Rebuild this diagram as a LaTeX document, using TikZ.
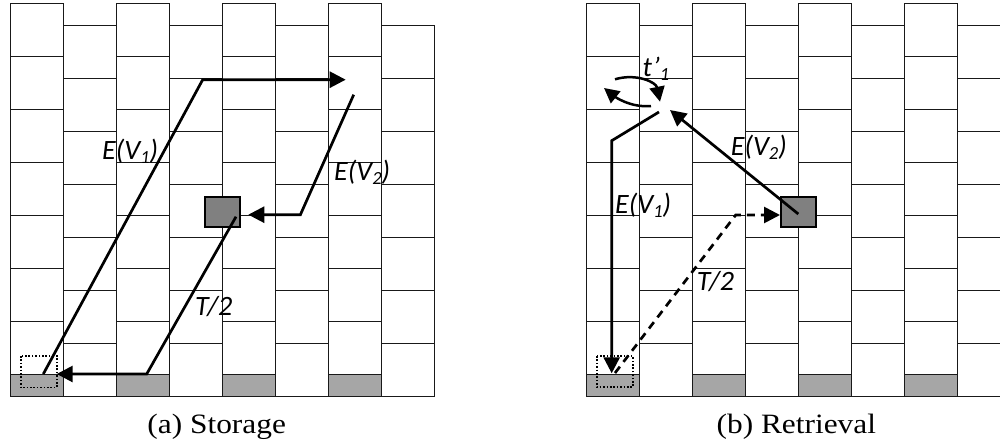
\documentclass[tikz,border=0pt]{standalone}
\usepackage{fontspec}
\usepackage{graphicx}
\setmainfont{Liberation Serif}
\newfontfamily\lblfont{Carlito}
\usetikzlibrary{arrows.meta}
% lowered index digit, as in E(V_1)
\newcommand\lowidx[1]{\raisebox{-4pt}{\fontsize{18.5}{18.5}\selectfont #1}}
\begin{document}
\begin{tikzpicture}[x=1pt,y=-1pt,
  cell/.style={draw=black!90,line width=1.4pt,fill=white},
  strip/.style={draw=black!90,line width=1.4pt,fill=black!35},
  slot/.style={draw=black,line width=2.2pt,fill=black!50},
  target/.style={draw=black,line width=1.6pt,dash pattern={on 1.6pt off 1.8pt}},
  route/.style={line width=2.7pt,-{Triangle[length=16pt,width=16pt]}},
  backroute/.style={route,dash pattern={on 8pt off 6pt}},
  turn/.style={line width=2.5pt,-{Triangle[length=15pt,width=15pt]}},
  lbl/.style={font=\lblfont\itshape\fontsize{28}{28}\selectfont,anchor=base west,inner sep=0pt},
  caption/.style={font=\fontsize{28}{28}\selectfont,anchor=base,inner sep=0pt}]
\useasboundingbox (0,0) rectangle (1000,444);
\clip (0,0) rectangle (1000,444);
\fill[white] (0,0) rectangle (1000,444);

% two racks of staggered columns
\foreach \ox in {10.3,586.3}{
  \foreach \i in {0,2,4,6}{
    \foreach \k in {0,...,6}{
      \draw[cell] ({\ox+53*\i},{3.3+53*\k}) rectangle +(53,53);
    }
    \draw[strip] ({\ox+53*\i},374.3) rectangle +(53,22);
  }
  \foreach \i in {1,3,5,7}{
    \foreach \k in {0,...,6}{
      \draw[cell] ({\ox+53*\i},{25.3+53*\k}) rectangle +(53,53);
    }
  }
}

% (a) storage
\draw[target] (20.7,356) rectangle (56.7,387.5);
\draw[slot] (205,197) rectangle (240,227);
\coordinate (a1) at (43.3,374);
\coordinate (a2) at (202.7,79.7);
\coordinate (a3) at (345.7,79.7);
\coordinate (b1) at (353.7,94.7);
\coordinate (b2) at (300.4,214.7);
\coordinate (b3) at (248.3,214.7);
\coordinate (c1) at (236,216.7);
\coordinate (c2) at (146.7,374);
\coordinate (c3) at (56.7,374);
\draw[route] (a1) -- (a2) -- (a3);
\draw[route] (b1) -- (b2) -- (b3);
\draw[route] (c1) -- (c2) -- (c3);
\node[lbl] (la1) at (102,159.3) {E(V\lowidx{1})};
\node[lbl] (la2) at (334,180) {E(V\lowidx{2})};
\node[lbl] (la3) at (195,315) {T/2};
\node[caption] (capa) at (216.7,433) {\scalebox{1.12}[1]{(a) Storage}};

% (b) retrieval
\draw[target] (596.7,356) rectangle (632.7,387);
\draw[slot] (781,197) rectangle (816,227);
\coordinate (d1) at (659,112);
\coordinate (d2) at (611.7,140.7);
\coordinate (d3) at (611.7,373.3);
\coordinate (e1) at (798.3,214);
\coordinate (e2) at (670,110);
\coordinate (f1) at (615,373);
\coordinate (f2) at (735.7,215);
\coordinate (f3) at (780,215);
\draw[route] (d1) -- (d2) -- (d3);
\draw[route] (e1) -- (e2);
\draw[backroute] (f1) -- (f2) -- (f3);
\coordinate (g1) at (615,79.3);
\coordinate (g2) at (660,101.7);
\coordinate (h1) at (651,106);
\coordinate (h2) at (604,88);
\draw[turn] (g1) .. controls (636,73) and (656,82) .. (g2);
\draw[turn] (h1) .. controls (630,108) and (614,96) .. (h2);
\node[lbl] (lb0) at (642.3,76) {t’\lowidx{1}};
\node[lbl] (lb1) at (615,213.3) {E(V\lowidx{1})};
\node[lbl] (lb2) at (730.7,155) {E(V\lowidx{2})};
\node[lbl] (lb3) at (696.7,290) {T/2};
\node[caption] (capb) at (796.3,433) {\scalebox{1.12}[1]{(b) Retrieval}};
\end{tikzpicture}
\end{document}
